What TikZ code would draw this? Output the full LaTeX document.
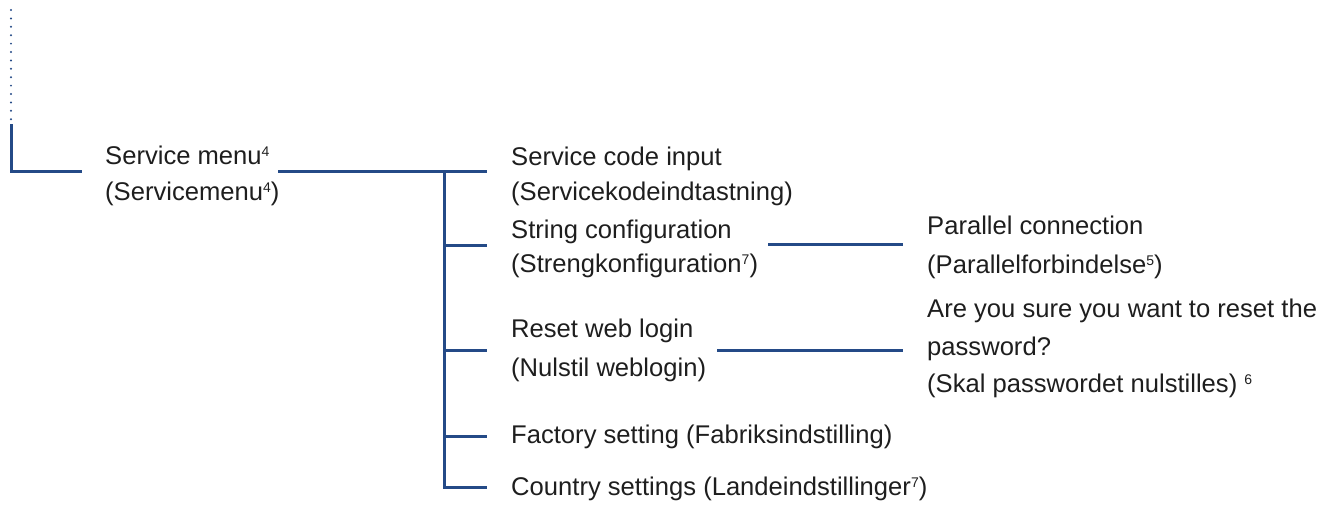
\documentclass[tikz,border=0pt]{standalone}
\usepackage{fontspec}
\setmainfont{Liberation Sans}
\definecolor{lineblue}{RGB}{36,74,135}
\definecolor{txt}{RGB}{30,30,30}
\newcommand\sups[1]{\raisebox{8pt}{\fontsize{14}{14}\selectfont #1}}
\begin{document}
\begin{tikzpicture}[x=1pt,y=-1pt,
  lbl/.style={anchor=base west, inner sep=0pt, text=txt, font=\fontsize{25.6}{30}\selectfont},
  conn/.style={draw=lineblue, line width=3pt},
  dotline/.style={draw=lineblue, line width=2.2pt, line cap=round, dash pattern=on 0pt off 8.4pt}]
\useasboundingbox (0,0) rectangle (1339,504);
% text nodes
\node[lbl] (sm)  at (105,164) {Service menu\sups{4}};
\node[lbl] (smb) at (105,200) {(Servicemenu\sups{4})};
\node[lbl] (sc)  at (511,165) {Service code input};
\node[lbl] (scb) at (511,200) {(Servicekodeindtastning)};
\node[lbl] (st)  at (511,238) {String configuration};
\node[lbl] (stb) at (511,272) {(Strengkonfiguration\sups{7})};
\node[lbl] (rw)  at (511,337) {Reset web login};
\node[lbl] (rwb) at (511,376) {(Nulstil weblogin)};
\node[lbl] (fs)  at (511,443) {Factory setting (Fabriksindstilling)};
\node[lbl] (cs)  at (511,495) {Country settings (Landeindstillinger\sups{7})};
\node[lbl] (pc)  at (927,234) {Parallel connection};
\node[lbl] (pcb) at (927,273) {(Parallelforbindelse\sups{5})};
\node[lbl] (ay)  at (927,317) {Are you sure you want to reset the};
\node[lbl] (ayb) at (927,355) {password?};
\node[lbl] (ayc) at (927,392) {(Skal passwordet nulstilles) \sups{6}};
% connector end points
\coordinate (dtop) at (11,10);
\coordinate (dbot) at (11,120);
\coordinate (root) at (11,124);
\coordinate (rootend) at (82,171);
\coordinate (smout) at (278,171);
\coordinate (trunk) at (444,171);
\coordinate (trunkend) at (444,487);
\coordinate (scin) at (487,171);
\coordinate (stin) at (487,245);
\coordinate (rwin) at (487,350);
\coordinate (fsin) at (487,436);
\coordinate (csin) at (487,487);
\coordinate (stout) at (768,244);
\coordinate (pcin) at (903,244);
\coordinate (rwout) at (717,350);
\coordinate (ayin) at (903,350);
% connectors
\draw[dotline] (dtop) -- (dbot);
\draw[conn] (root) |- (rootend);
\draw[conn] (smout) -- (scin);
\draw[conn] (trunk) -- (trunkend) -- (csin);
\draw[conn] (trunk |- stin) -- (stin);
\draw[conn] (trunk |- rwin) -- (rwin);
\draw[conn] (trunk |- fsin) -- (fsin);
\draw[conn] (stout) -- (pcin);
\draw[conn] (rwout) -- (ayin);
\end{tikzpicture}
\end{document}
